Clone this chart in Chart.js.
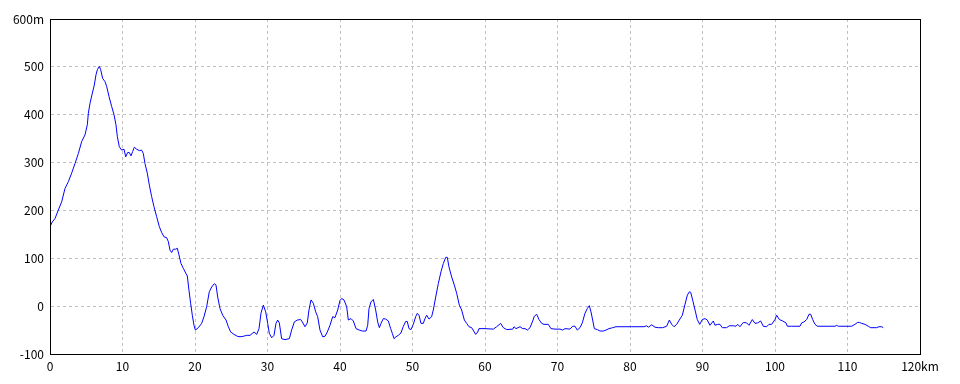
<!DOCTYPE html>
<html>
<head>
<meta charset="utf-8">
<script src="https://cdn.jsdelivr.net/npm/chart.js@4/dist/chart.umd.min.js"></script>
<style>
html,body{margin:0;padding:0;background:#fff;}
#wrap{width:960px;height:384px;}
</style>
</head>
<body>
<div id="wrap"><canvas id="c" width="960" height="384"></canvas></div>
<script>
const distanceKm = [0,0.03,0.1,0.32,0.69,1.15,1.61,2.07,2.53,2.99,3.45,3.91,4.37,4.83,5.15,5.29,5.52,5.84,6.11,6.34,6.53,6.8,6.99,7.26,7.59,7.82,8.14,8.51,8.83,9.1,9.29,9.56,9.89,10.21,10.44,10.71,10.94,11.17,11.4,11.63,11.95,12.32,12.64,12.87,13.1,13.42,13.7,14.02,14.34,14.71,15.08,15.4,15.72,16.09,16.32,16.55,16.78,17.01,17.34,17.56,17.79,18.07,18.39,18.76,18.94,19.17,19.4,19.63,19.86,20.05,20.46,20.92,21.24,21.61,21.97,22.3,22.66,22.9,23.13,23.45,23.82,24.28,24.6,24.92,25.38,25.84,26.21,26.67,27.13,27.59,28.14,28.51,28.83,29.1,29.43,29.75,30.03,30.25,30.58,30.9,31.17,31.4,31.63,31.95,32.41,33.01,33.33,33.7,34.11,34.58,34.8,35.17,35.49,35.72,36,36.32,36.65,36.92,37.24,37.61,37.93,38.25,38.62,38.99,39.31,39.68,40,40.23,40.55,40.92,41.15,41.52,41.84,42.21,42.66,43.08,43.59,43.82,44,44.28,44.6,44.92,45.2,45.43,45.66,45.98,46.3,46.67,46.99,47.22,47.45,47.72,48.04,48.41,48.74,49.06,49.28,49.52,49.79,50.11,50.44,50.66,50.9,51.17,51.49,51.72,51.95,52.28,52.64,52.87,53.2,53.56,53.93,54.25,54.58,54.8,55.03,55.4,55.77,56.09,56.46,56.78,57.15,57.47,57.79,58.16,58.52,58.71,58.99,59.17,60,61.15,61.61,62.16,62.53,63,63.82,64,64.28,64.83,65.2,65.52,65.84,66.21,66.58,66.8,67.13,67.45,67.82,68.14,68.73,69.1,69.66,70.34,70.71,71.03,71.72,72.09,72.41,72.73,73.1,73.42,73.79,74.11,74.39,74.62,74.85,75.08,75.49,75.86,76.32,76.69,77.1,77.61,78.07,78.62,79.31,80.23,81.38,81.93,82.3,82.53,83,83.45,83.91,84.51,85.06,85.43,85.75,86.07,86.44,86.8,87.22,87.59,87.91,88.19,88.37,88.64,88.97,89.28,89.62,89.97,90.34,90.66,91.03,91.49,91.72,92.09,92.41,92.73,93.33,93.7,94.25,94.62,94.85,95.17,95.63,96.09,96.41,96.87,97.24,97.61,98.02,98.39,98.85,99.17,99.54,100,100.23,100.6,101.06,101.52,101.7,102.3,103.45,103.68,104,104.37,104.69,104.92,105.2,105.52,105.84,108.28,108.51,108.73,110.57,111.03,111.4,111.63,111.95,112.41,112.87,113.2,114.02,114.34,114.71,114.94];
const elevationM = [0,80,168,176,183,201,218,246,260,278,298,319,344,358,379,403,424,445,462,483,494,501,494,476,469,459,438,417,400,379,354,333,326,328,312,321,321,314,323,332,328,325,326,319,298,278,253,229,208,187,166,154,145,143,135,117,112,119,119,121,107,89,79,68,63,33,6,-19,-40,-50,-45,-36,-22,-1,30,40,47,44,19,-5,-19,-29,-43,-54,-59,-63,-64,-63,-61,-61,-54,-59,-47,-15,2,-12,-36,-57,-66,-61,-36,-29,-35,-68,-70,-68,-50,-33,-29,-28,-33,-43,-35,-8,13,6,-12,-22,-50,-64,-63,-54,-40,-22,-24,-8,12,16,13,-1,-29,-26,-31,-47,-50,-52,-52,-40,-5,9,14,-8,-33,-45,-36,-26,-27,-31,-47,-57,-68,-64,-61,-56,-42,-32,-32,-47,-49,-38,-22,-15,-19,-36,-36,-26,-19,-27,-22,-8,19,47,72,89,102,102,82,61,44,27,2,-8,-29,-36,-43,-45,-54,-59,-54,-47,-47,-48,-43,-36,-45,-49,-48,-43,-47,-43,-47,-47,-50,-45,-31,-21,-17,-28,-36,-38,-38,-47,-48,-48,-50,-47,-48,-42,-42,-50,-45,-35,-15,-5,1,-12,-29,-47,-49,-52,-52,-50,-47,-45,-43,-43,-43,-43,-43,-43,-41,-44,-39,-44,-45,-45,-42,-29,-38,-43,-38,-29,-19,4,23,30,29,13,-8,-28,-38,-28,-26,-29,-40,-31,-40,-38,-38,-45,-45,-41,-41,-42,-38,-43,-34,-35,-40,-28,-36,-35,-31,-42,-43,-38,-38,-28,-19,-28,-31,-35,-42,-42,-42,-35,-33,-28,-17,-17,-28,-38,-42,-42,-40,-42,-42,-38,-34,-34,-36,-38,-42,-45,-45,-43,-43,-45];
const xTicks = [0,10,20,30,40,50,60,70,80,90,100,110,120];
const yTicks = [-100,0,100,200,300,400,500,600];

const FONT = {family: '"Noto Sans CJK JP", "DejaVu Sans", sans-serif', size: 12};

const framePlugin = {
  id: 'frame',
  afterDraw(chart) {
    const a = chart.chartArea, ctx = chart.ctx;
    ctx.save();
    ctx.strokeStyle = '#000';
    ctx.lineWidth = 1;
    ctx.setLineDash([]);
    ctx.strokeRect(Math.round(a.left) + 0.5, Math.round(a.top) + 0.5, Math.round(a.right - a.left), Math.round(a.bottom - a.top));
    ctx.restore();
  }
};

new Chart(document.getElementById('c'), {
  type: 'line',
  data: {
    datasets: [{
      data: distanceKm.map((x, i) => ({x: x, y: elevationM[i]})),
      borderColor: '#0000ff',
      borderWidth: 1,
      pointRadius: 0,
      tension: 0,
      fill: false
    }]
  },
  options: {
    responsive: false,
    animation: false,
    layout: {padding: {top: 19, right: 40, left: 0, bottom: 0}},
    plugins: {legend: {display: false}, tooltip: {enabled: false}},
    scales: {
      x: {
        type: 'linear',
        min: 0, max: 120,
        afterBuildTicks: s => { s.ticks = xTicks.map(v => ({value: v})); },
        afterFit: s => { s.height = 30; },
        grid: {color: '#c0c0c0', drawTicks: false, lineWidth: 1},
        border: {color: '#000', dash: [3, 3]},
        ticks: {
          color: '#000', font: FONT, padding: 5, maxRotation: 0, autoSkip: false,
          callback: v => v === 120 ? '120km' : String(v)
        }
      },
      y: {
        type: 'linear',
        min: -100, max: 600,
        afterBuildTicks: s => { s.ticks = yTicks.map(v => ({value: v})); },
        afterFit: s => { s.width = 50; },
        grid: {color: '#c0c0c0', drawTicks: false, lineWidth: 1},
        border: {color: '#000', dash: [3, 3]},
        ticks: {
          color: '#000', font: FONT, padding: 6, autoSkip: false,
          callback: v => v === 600 ? '600m' : String(v)
        }
      }
    }
  },
  plugins: [framePlugin]
});
</script>
</body>
</html>
